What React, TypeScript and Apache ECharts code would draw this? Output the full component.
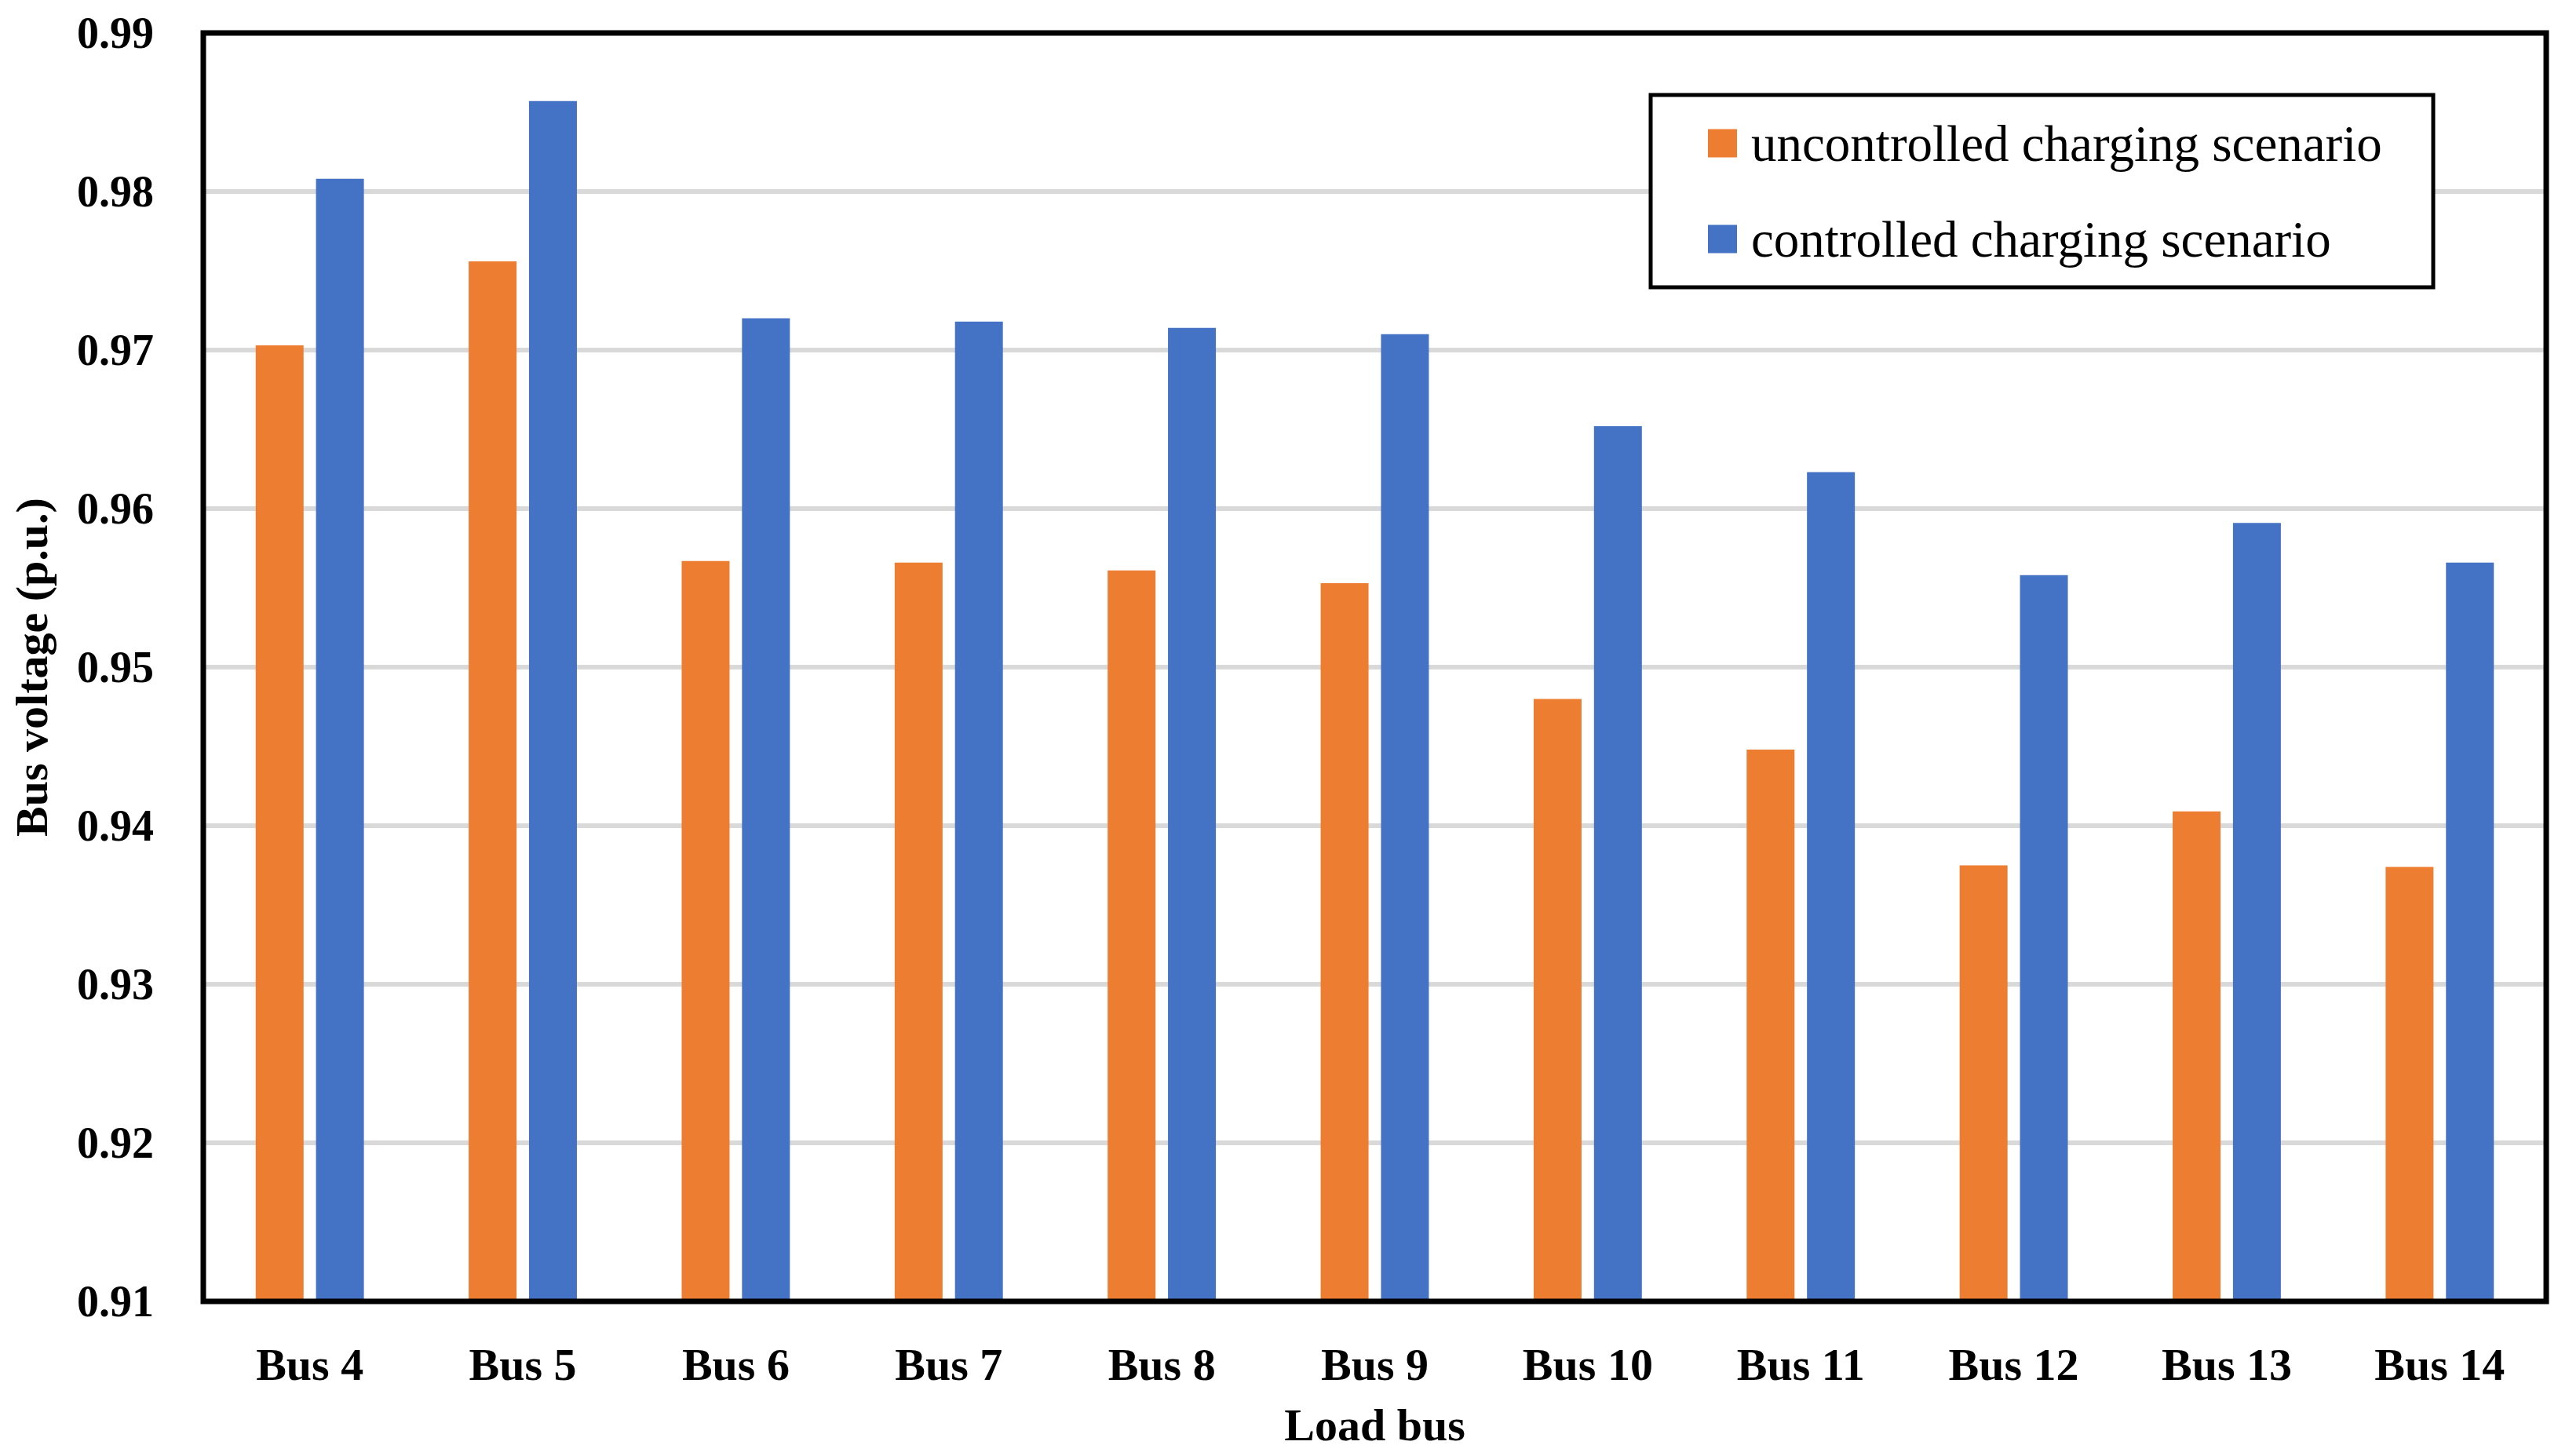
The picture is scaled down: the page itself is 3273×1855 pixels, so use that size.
import React, { useEffect, useRef } from "react";
import * as echarts from "echarts";

const categories = ["Bus 4", "Bus 5", "Bus 6", "Bus 7", "Bus 8", "Bus 9", "Bus 10", "Bus 11", "Bus 12", "Bus 13", "Bus 14"];
const uncontrolled = [0.9703, 0.9756, 0.9567, 0.9566, 0.9561, 0.9553, 0.948, 0.9448, 0.9375, 0.9409, 0.9374];
const controlled = [0.9808, 0.9857, 0.972, 0.9718, 0.9714, 0.971, 0.9652, 0.9623, 0.9558, 0.9591, 0.9566];
const seriesNames = ["uncontrolled charging scenario", "controlled charging scenario"];
const yMin = 0.91;
const yMax = 0.99;
const yStep = 0.01;

const FONT = "'Liberation Serif', 'DejaVu Serif', serif";

export default function App() {
  const ref = useRef<HTMLDivElement>(null);
  useEffect(() => {
    document.body.style.margin = "0";
    const chart = echarts.init(ref.current!, null, { renderer: "svg" });
    chart.setOption({
      animation: false,
      backgroundColor: "#ffffff",
      grid: {
        left: 259,
        top: 42,
        width: 2985,
        height: 1616,
        show: false,
        containLabel: false,
      },
      legend: {
        orient: "vertical",
        left: 2176,
        top: 150,
        itemWidth: 37,
        itemHeight: 36,
        itemGap: 57,
        icon: "rect",
        padding: 0,
        z: 20,
        textStyle: {
          fontFamily: FONT,
          fontSize: 65,
          color: "#000000",
          lineHeight: 65,
          padding: [0, 0, 0, 13],
        },
        data: seriesNames,
      },
      graphic: [
        {
          type: "rect",
          z: 15,
          shape: { x: 2103, y: 121, width: 997, height: 245 },
          style: { fill: "#ffffff", stroke: "#000000", lineWidth: 5 },
        },
        {
          type: "rect",
          z: 15,
          shape: { x: 259, y: 42, width: 2985, height: 1616 },
          style: { fill: "none", stroke: "#000000", lineWidth: 7 },
        },
      ],
      xAxis: {
        type: "category",
        data: categories,
        axisLine: { show: false },
        axisTick: { show: false },
        axisLabel: {
          fontFamily: FONT,
          fontWeight: "bold",
          fontSize: 58,
          color: "#000000",
          margin: 51,
          lineHeight: 58,
        },
        name: "Load bus",
        nameLocation: "middle",
        nameGap: 128,
        nameTextStyle: {
          fontFamily: FONT,
          fontWeight: "bold",
          fontSize: 58,
          color: "#000000",
          lineHeight: 58,
        },
      },
      yAxis: {
        type: "value",
        min: yMin,
        max: yMax,
        interval: yStep,
        axisLine: { show: false },
        axisTick: { show: false },
        splitLine: { lineStyle: { color: "#d9d9d9", width: 6 } },
        axisLabel: {
          fontFamily: FONT,
          fontWeight: "bold",
          fontSize: 56,
          color: "#000000",
          margin: 63,
          formatter: (v: number) => v.toFixed(2),
        },
        name: "Bus voltage (p.u.)",
        nameLocation: "middle",
        nameGap: 190,
        nameTextStyle: {
          fontFamily: FONT,
          fontWeight: "bold",
          fontSize: 58,
          color: "#000000",
          lineHeight: 58,
        },
      },
      series: [
        {
          name: seriesNames[0],
          type: "bar",
          data: uncontrolled,
          barWidth: 61,
          barGap: "26%",
          itemStyle: { color: "#ED7D31" },
          clip: true,
        },
        {
          name: seriesNames[1],
          type: "bar",
          data: controlled,
          barWidth: 61,
          barGap: "26%",
          itemStyle: { color: "#4472C4" },
          clip: true,
        },
      ],
    });
    return () => chart.dispose();
  }, []);
  return <div ref={ref} style={{ width: 3273, height: 1855 }} />;
}
